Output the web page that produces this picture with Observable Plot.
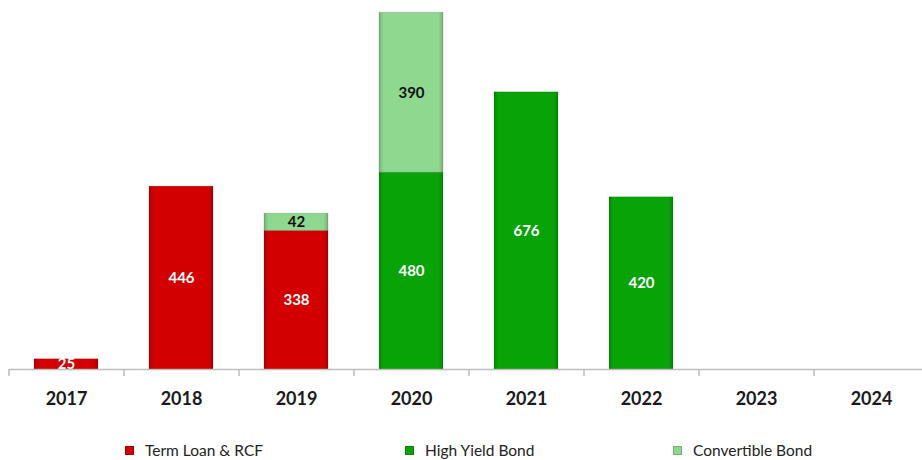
<!DOCTYPE html>
<html>
<head>
<meta charset="utf-8">
<script src="https://cdn.jsdelivr.net/npm/d3@7"></script>
<script src="https://cdn.jsdelivr.net/npm/@observablehq/plot@0.6"></script>
<style>
  body { margin: 0; background: #fff; font-family: Lato, "Open Sans", sans-serif; }
  #wrap { position: relative; width: 922px; height: 460px; overflow: hidden; }
  #legend { position: absolute; top: 441px; left: 0; width: 922px; height: 20px; }
  .item { position: absolute; display: flex; align-items: center; font-size: 15.5px; color: #222; }
  .sw { width: 9px; height: 9px; margin-right: 11px; box-sizing: border-box; }
</style>
</head>
<body>
<div id="wrap"><div id="chart"></div><div id="legend"></div></div>
<script>
const years = ["2017","2018","2019","2020","2021","2022","2023","2024"];
const termLoan = [25, 446, 338, 0, 0, 0, 0, 0];
const highYield = [0, 0, 0, 480, 676, 420, 0, 0];
const convertible = [0, 0, 42, 390, 0, 0, 0, 0];
const seriesNames = ["Term Loan & RCF", "High Yield Bond", "Convertible Bond"];
const seriesColors = ["#d20000", "#07a307", "#8fd88f"];
const labelColors = ["#ffffff", "#ffffff", "#111111"];
const legendLeft = [125, 405, 673];

const seriesValues = [termLoan, highYield, convertible];
const rows = [];
years.forEach((y, i) => {
  seriesValues.forEach((vals, s) => {
    if (vals[i] > 0) rows.push({year: y, series: seriesNames[s], value: vals[i], lc: labelColors[s]});
  });
});

const chart = Plot.plot({
  width: 922,
  height: 425,
  marginTop: 0,
  marginBottom: 56,
  marginLeft: 9,
  marginRight: 0,
  style: {fontFamily: "Lato, 'Open Sans', sans-serif", background: "#fff"},
  x: {domain: years, range: [9, 929], paddingInner: 0.44, paddingOuter: 0.22, align: 0.5},
  y: {domain: [0, 900], range: [369, 0], axis: null},
  color: {domain: seriesNames, range: seriesColors},
  marks: [
    Plot.barY(rows, Plot.stackY({x: "year", y: "value", fill: "series", order: seriesNames, stroke: "#00000022", strokeWidth: 1})),
    Plot.barY(rows, Plot.stackY({x: "year", y: "value", z: "series", order: seriesNames, fill: "url(#edgeShade)"})),
    Plot.text(rows, Plot.stackY({x: "year", y: "value", z: "series", order: seriesNames, text: d => String(d.value), fill: "lc", fontSize: 15, fontWeight: "bold"})),
    Plot.ruleY([0], {stroke: "#bdbdbd", strokeWidth: 1.5}),
    Plot.ruleX(years, {x: d => d, dx: -57.5, y1: 0, y2: -17, stroke: "#bdbdbd", strokeWidth: 1.5}),
    Plot.axisX({tickSize: 0, tickPadding: 23, fontSize: 18, fontWeight: "bold", fill: "#1a1a1a", label: null})
  ]
});
// gradient for bevel-like edge shading
const ns = "http://www.w3.org/2000/svg";
const defs = document.createElementNS(ns, "defs");
defs.innerHTML = `<linearGradient id="edgeShade" x1="0" x2="1" y1="0" y2="0">
  <stop offset="0" stop-color="#000" stop-opacity="0.18"/>
  <stop offset="0.07" stop-color="#000" stop-opacity="0"/>
  <stop offset="0.93" stop-color="#000" stop-opacity="0"/>
  <stop offset="1" stop-color="#000" stop-opacity="0.18"/>
</linearGradient>`;
chart.insertBefore(defs, chart.firstChild);
document.getElementById("chart").appendChild(chart);

const legend = document.getElementById("legend");
seriesNames.forEach((name, i) => {
  const item = document.createElement("div");
  item.className = "item";
  item.style.left = legendLeft[i] + "px";
  const sw = document.createElement("div");
  sw.className = "sw";
  sw.style.background = seriesColors[i];
  sw.style.border = "1px solid " + d3.color(seriesColors[i]).darker(0.6);
  const tx = document.createElement("span");
  tx.textContent = name;
  item.appendChild(sw);
  item.appendChild(tx);
  legend.appendChild(item);
});
</script>
</body>
</html>
